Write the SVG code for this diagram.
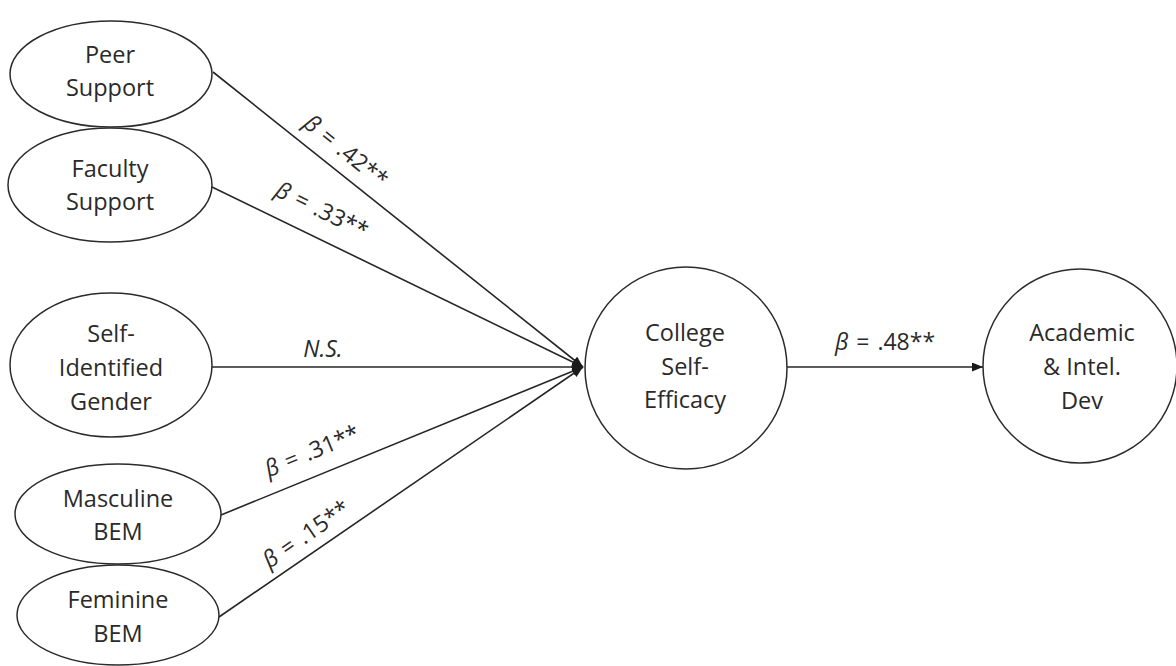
<svg xmlns="http://www.w3.org/2000/svg" width="1176" height="666" viewBox="0 0 1176 666">
  <style>
    .shape { fill: #ffffff; stroke: #2b2b2b; stroke-width: 1.5; }
    .edge { fill: none; stroke: #262626; stroke-width: 1.6; }
    .lbl { font-family: "Open Sans", Lato, "Liberation Sans", sans-serif; font-size: 23.5px; fill: #2a2a2a; text-anchor: middle; }
    .coef { font-family: "Open Sans", Lato, "Liberation Sans", sans-serif; font-size: 23px; fill: #2a2a2a; text-anchor: middle; word-spacing: 2px; }
    .it { font-style: italic; }
  </style>
  <defs>
    <marker id="arrow" markerUnits="userSpaceOnUse" markerWidth="12" markerHeight="10" refX="11" refY="4.5" orient="auto">
      <path d="M0,0 L11,4.5 L0,9 Z" fill="#1a1a1a"/>
    </marker>
  </defs>
  <rect width="1176" height="666" fill="#ffffff"/>

  <!-- paths between constructs -->
  <g id="connectors">
    <line class="edge" x1="213" y1="72" x2="583" y2="367" marker-end="url(#arrow)"/>
    <line class="edge" x1="212" y1="187" x2="583" y2="367" marker-end="url(#arrow)"/>
    <line class="edge" x1="212" y1="367" x2="583" y2="367" marker-end="url(#arrow)"/>
    <line class="edge" x1="221" y1="515" x2="583" y2="367" marker-end="url(#arrow)"/>
    <line class="edge" x1="219" y1="617" x2="583" y2="367" marker-end="url(#arrow)"/>
    <line class="edge" x1="787" y1="367" x2="983" y2="367" marker-end="url(#arrow)"/>

    <text class="coef" transform="translate(346,151) rotate(38.8)" y="8"><tspan class="it">β</tspan> = .42**</text>
    <text class="coef" transform="translate(322,210) rotate(26.1)" y="8"><tspan class="it">β</tspan> = .33**</text>
    <text class="coef it" x="323" y="357">N.S.</text>
    <text class="coef" transform="translate(312,451) rotate(-22.5)" y="8"><tspan class="it">β</tspan> = .31**</text>
    <text class="coef" transform="translate(306,534) rotate(-34.7)" y="8"><tspan class="it">β</tspan> = .15**</text>
    <text class="coef" x="885" y="350"><tspan class="it">β</tspan> = .48**</text>
  </g>

  <g id="peer-support">
    <ellipse class="shape" cx="111" cy="74" rx="101" ry="53"/>
    <text class="lbl" x="110" y="63">Peer</text>
    <text class="lbl" x="110" y="96">Support</text>
  </g>

  <g id="faculty-support">
    <ellipse class="shape" cx="110" cy="185" rx="102" ry="57"/>
    <text class="lbl" x="110" y="177">Faculty</text>
    <text class="lbl" x="110" y="210">Support</text>
  </g>

  <g id="self-identified-gender">
    <ellipse class="shape" cx="111" cy="365" rx="101" ry="72"/>
    <text class="lbl" x="111" y="342">Self-</text>
    <text class="lbl" x="111" y="376">Identified</text>
    <text class="lbl" x="111" y="410">Gender</text>
  </g>

  <g id="masculine-bem">
    <ellipse class="shape" cx="118" cy="514" rx="103" ry="50"/>
    <text class="lbl" x="118" y="507">Masculine</text>
    <text class="lbl" x="118" y="540">BEM</text>
  </g>

  <g id="feminine-bem">
    <ellipse class="shape" cx="118" cy="615" rx="101" ry="50"/>
    <text class="lbl" x="118" y="608">Feminine</text>
    <text class="lbl" x="118" y="642">BEM</text>
  </g>

  <g id="college-self-efficacy">
    <circle class="shape" cx="686" cy="368" r="101"/>
    <text class="lbl" x="685" y="341">College</text>
    <text class="lbl" x="685" y="375">Self-</text>
    <text class="lbl" x="685" y="408">Efficacy</text>
  </g>

  <g id="academic-intel-dev">
    <circle class="shape" cx="1080" cy="366" r="97"/>
    <text class="lbl" x="1082" y="341">Academic</text>
    <text class="lbl" x="1082" y="375">&amp; Intel.</text>
    <text class="lbl" x="1082" y="409">Dev</text>
  </g>
</svg>
